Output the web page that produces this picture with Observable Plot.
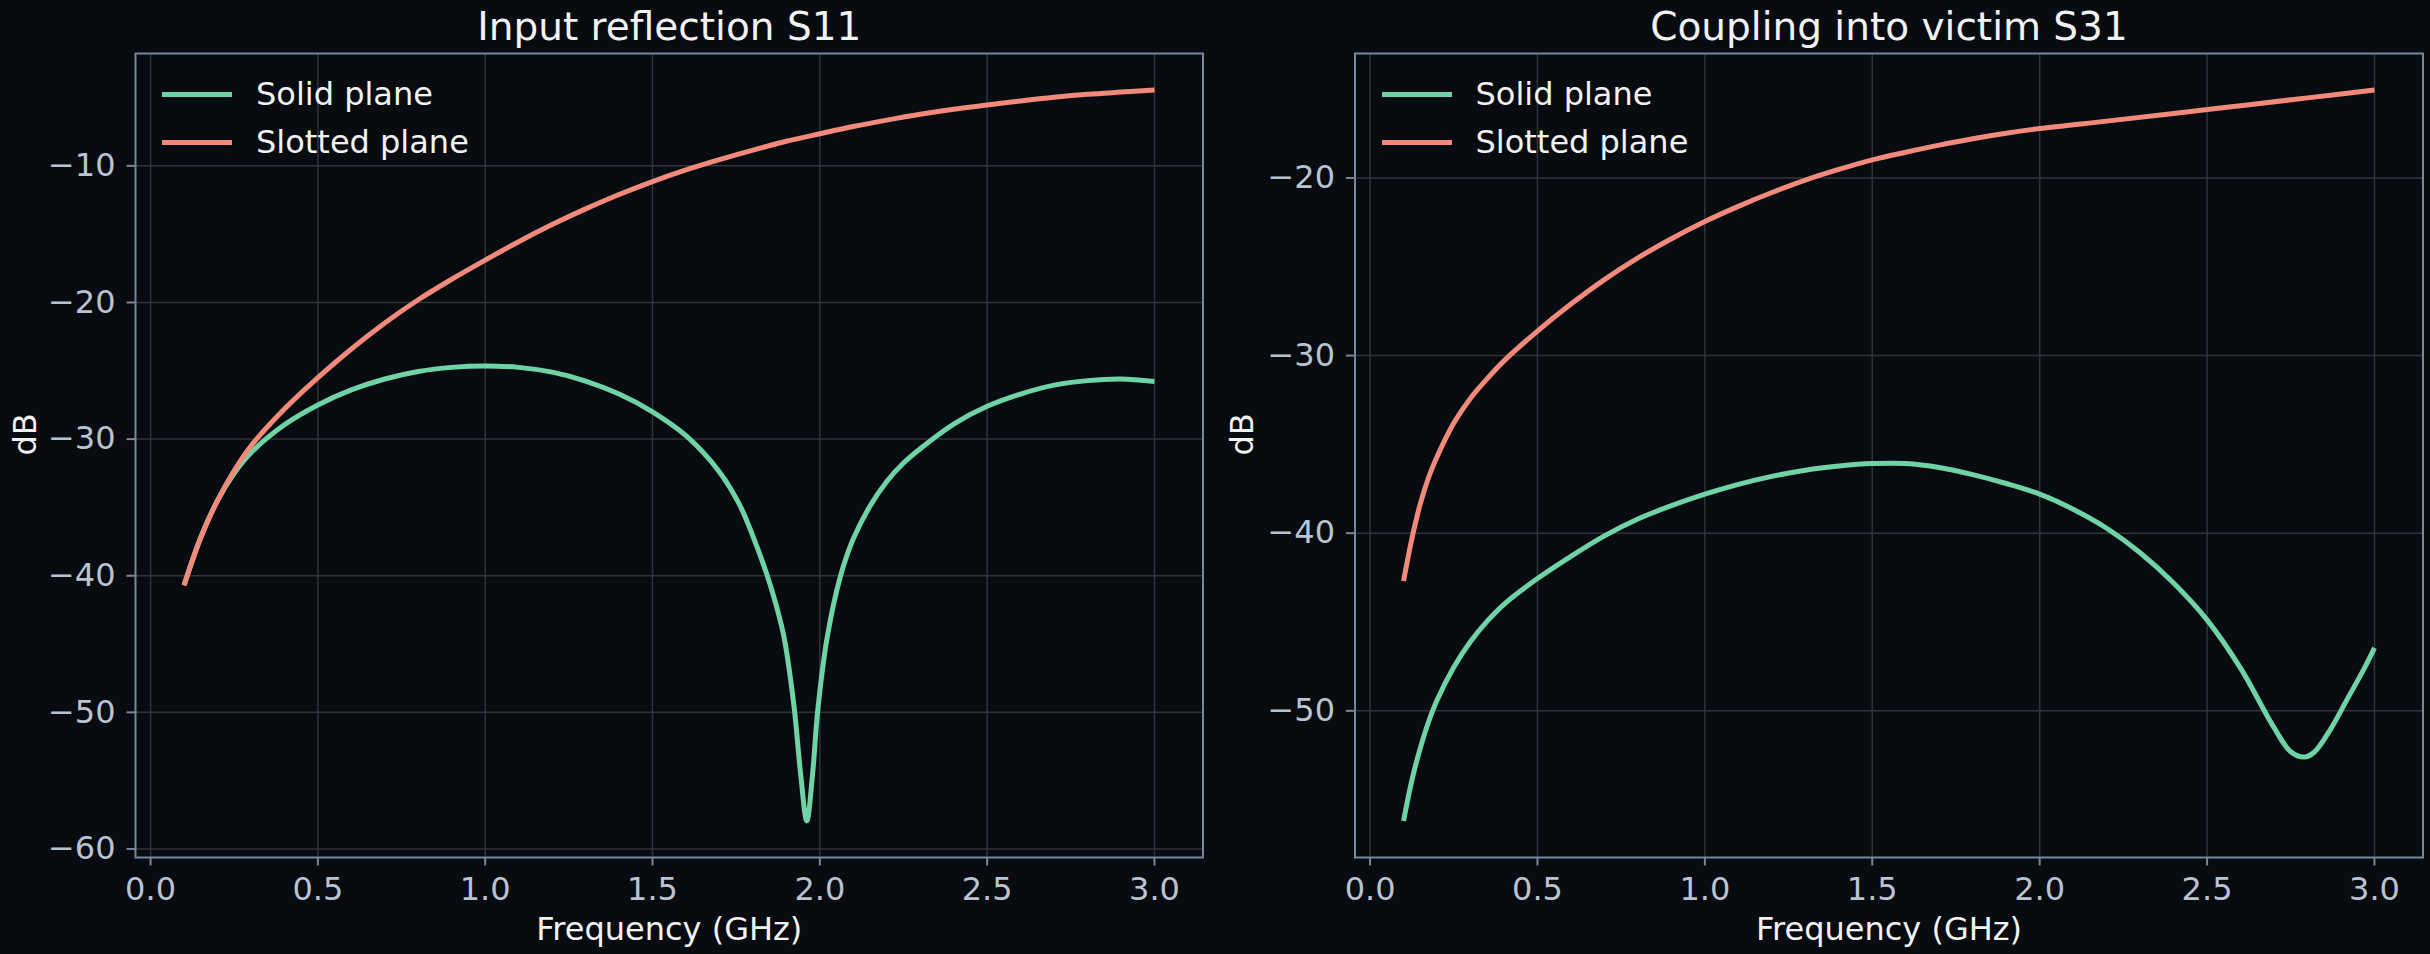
<!DOCTYPE html>
<html><head><meta charset="utf-8">
<script src="https://cdn.jsdelivr.net/npm/d3@7"></script>
<script src="https://cdn.jsdelivr.net/npm/@observablehq/plot@0.6"></script>
<style>
html,body{margin:0;padding:0;background:#080b10;}
#wrap{position:relative;width:2430px;height:954px;display:flex;background:#080b10;font-family:"DejaVu Sans",sans-serif;}
.panel{position:relative;width:1215px;height:954px;}
.legend{position:absolute;top:70.3px;}
.row{display:flex;align-items:center;height:48px;}
.sw{width:70px;height:5px;margin-right:24px;}
.lt{font-size:32px;line-height:48px;color:#f2f2f2;white-space:nowrap;}
</style></head>
<body><div id="wrap"><div class="panel" id="p1"></div><div class="panel" id="p2"></div></div>
<script>
const xTicks = [0, 0.5, 1.0, 1.5, 2.0, 2.5, 3.0];
const s11YTicks = [-60, -50, -40, -30, -20, -10];
const s31YTicks = [-50, -40, -30, -20];
const seriesNames = ["Solid plane", "Slotted plane"];
const seriesColors = ["#6fd3a6", "#f28a7c"];
const titles = ["Input reflection S11", "Coupling into victim S31"];
const xLabel = "Frequency (GHz)";
const yLabel = "dB";

const s11SolidFreq = [0.1,0.15,0.2,0.25,0.3,0.4,0.5,0.6,0.7,0.8,0.9,1.0,1.1,1.2,1.3,1.4,1.5,1.6,1.7,1.76,1.8,1.843,1.87,1.893,1.923,1.943,1.961,1.978,1.994,2.022,2.062,2.1,2.15,2.2,2.25,2.3,2.4,2.5,2.6,2.7,2.8,2.9,3.0];
const s11SolidDb = [-40.7,-37.2,-34.5,-32.5,-31.0,-28.95,-27.5,-26.4,-25.6,-25.05,-24.75,-24.65,-24.75,-25.1,-25.75,-26.7,-28.0,-29.75,-32.4,-34.8,-37.1,-40.0,-42.2,-44.5,-49.6,-54.6,-57.95,-54.6,-49.8,-44.5,-40.0,-37.3,-34.9,-33.1,-31.75,-30.7,-28.9,-27.6,-26.7,-26.05,-25.72,-25.6,-25.78];
const s11SlottedFreq = [0.1,0.15,0.2,0.25,0.3,0.4,0.5,0.6,0.7,0.8,0.9,1.0,1.1,1.2,1.3,1.4,1.5,1.6,1.7,1.8,1.9,2.0,2.1,2.2,2.3,2.4,2.5,2.6,2.7,2.8,2.9,3.0];
const s11SlottedDb = [-40.7,-37.2,-34.5,-32.3,-30.5,-27.8,-25.5,-23.4,-21.5,-19.8,-18.3,-16.9,-15.55,-14.3,-13.15,-12.1,-11.15,-10.3,-9.55,-8.85,-8.2,-7.65,-7.12,-6.65,-6.22,-5.85,-5.55,-5.25,-4.98,-4.76,-4.6,-4.45];

const s31SolidFreq = [0.1,0.125,0.15,0.175,0.2,0.25,0.3,0.35,0.4,0.5,0.6,0.7,0.8,0.9,1.0,1.1,1.2,1.3,1.4,1.5,1.6,1.7,1.8,1.9,2.0,2.1,2.2,2.3,2.4,2.5,2.6,2.7,2.75,2.79,2.82,2.87,2.92,2.97,3.0];
const s31SolidDb = [-56.2,-53.9,-52.1,-50.6,-49.4,-47.55,-46.1,-44.95,-44.0,-42.55,-41.3,-40.15,-39.2,-38.45,-37.8,-37.25,-36.8,-36.45,-36.22,-36.08,-36.08,-36.3,-36.7,-37.2,-37.8,-38.65,-39.72,-41.1,-42.8,-44.88,-47.6,-50.95,-52.3,-52.6,-52.33,-51.0,-49.3,-47.6,-46.46];
const s31SlottedFreq = [0.1,0.125,0.15,0.175,0.2,0.25,0.3,0.35,0.4,0.5,0.6,0.7,0.8,0.9,1.0,1.1,1.2,1.3,1.4,1.5,1.6,1.7,1.8,1.9,2.0,2.2,2.4,2.6,2.8,3.0];
const s31SlottedDb = [-42.7,-40.3,-38.35,-36.85,-35.7,-33.8,-32.4,-31.3,-30.3,-28.62,-27.1,-25.72,-24.5,-23.42,-22.45,-21.6,-20.82,-20.12,-19.52,-18.98,-18.55,-18.15,-17.79,-17.48,-17.22,-16.8,-16.37,-15.93,-15.49,-15.05];

const bg = "#080b10", frameColor = "#78889a", tickColor = "#b9c3d1", textColor = "#f2f2f2", gridColor = "#30353b";

function rows(freqs, dbs, name) {
  return freqs.map((f, i) => ({f, db: dbs[i], s: name}));
}
function padded(ext) {
  const p = (ext[1] - ext[0]) * 0.05;
  return [ext[0] - p, ext[1] + p];
}

function panel(el, cfg) {
  const data = [
    ...rows(cfg.solidF, cfg.solidDb, seriesNames[0]),
    ...rows(cfg.slotF, cfg.slotDb, seriesNames[1])
  ];
  const xDom = padded(d3.extent(data, d => d.f));
  const yDom = padded(d3.extent(data, d => d.db));
  const chart = Plot.plot({
    width: 1215, height: 954,
    marginTop: 53, marginBottom: 97, marginLeft: cfg.ml, marginRight: cfg.mr,
    style: {background: bg, color: textColor, fontFamily: "'DejaVu Sans', sans-serif", fontSize: "32px", overflow: "visible"},
    x: {domain: xDom},
    y: {domain: yDom},
    color: {domain: seriesNames, range: seriesColors},
    marks: [
      Plot.gridX(xTicks, {stroke: gridColor, strokeOpacity: 1, strokeWidth: 1.5}),
      Plot.gridY(cfg.yTicks, {stroke: gridColor, strokeOpacity: 1, strokeWidth: 1.5}),
      Plot.line(data, {x: "f", y: "db", z: "s", stroke: "s", strokeWidth: 5, curve: "catmull-rom", strokeLinecap: "butt"}),
      Plot.frame({stroke: frameColor, strokeWidth: 2}),
      Plot.axisX(xTicks, {tickSize: 8.5, tickPadding: 11, tickFormat: d3.format(".1f"), stroke: frameColor, strokeWidth: 2, fill: tickColor, fontSize: 32, label: null}),
      Plot.axisY(cfg.yTicks, {tickSize: 8.5, tickPadding: 11.5, stroke: frameColor, strokeWidth: 2, fill: tickColor, fontSize: 32, label: null}),
      Plot.text([cfg.title], {text: d => d, frameAnchor: "top", dy: -14, lineAnchor: "bottom", fontSize: 39, fill: textColor}),
      Plot.text([xLabel], {text: d => d, frameAnchor: "bottom", dy: 82, lineAnchor: "bottom", fontSize: 32, fill: textColor}),
      Plot.text([yLabel], {text: d => d, frameAnchor: "left", rotate: -90, dx: cfg.ylDx, lineAnchor: "bottom", fontSize: 32, fill: textColor})
    ]
  });
  el.appendChild(chart);
  const lg = document.createElement("div");
  lg.className = "legend";
  lg.style.left = (cfg.ml + 27) + "px";
  seriesNames.forEach((n, i) => {
    const r = document.createElement("div"); r.className = "row";
    const sw = document.createElement("div"); sw.className = "sw"; sw.style.background = seriesColors[i];
    const t = document.createElement("div"); t.className = "lt"; t.textContent = n;
    r.appendChild(sw); r.appendChild(t); lg.appendChild(r);
  });
  el.appendChild(lg);
}

panel(document.getElementById("p1"), {title: titles[0], solidF: s11SolidFreq, solidDb: s11SolidDb, slotF: s11SlottedFreq, slotDb: s11SlottedDb, yTicks: s11YTicks, ml: 135, mr: 12.5, ylDx: -100});
panel(document.getElementById("p2"), {title: titles[1], solidF: s31SolidFreq, solidDb: s31SolidDb, slotF: s31SlottedFreq, slotDb: s31SlottedDb, yTicks: s31YTicks, ml: 139.5, mr: 7.5, ylDx: -102.5});
</script></body></html>
